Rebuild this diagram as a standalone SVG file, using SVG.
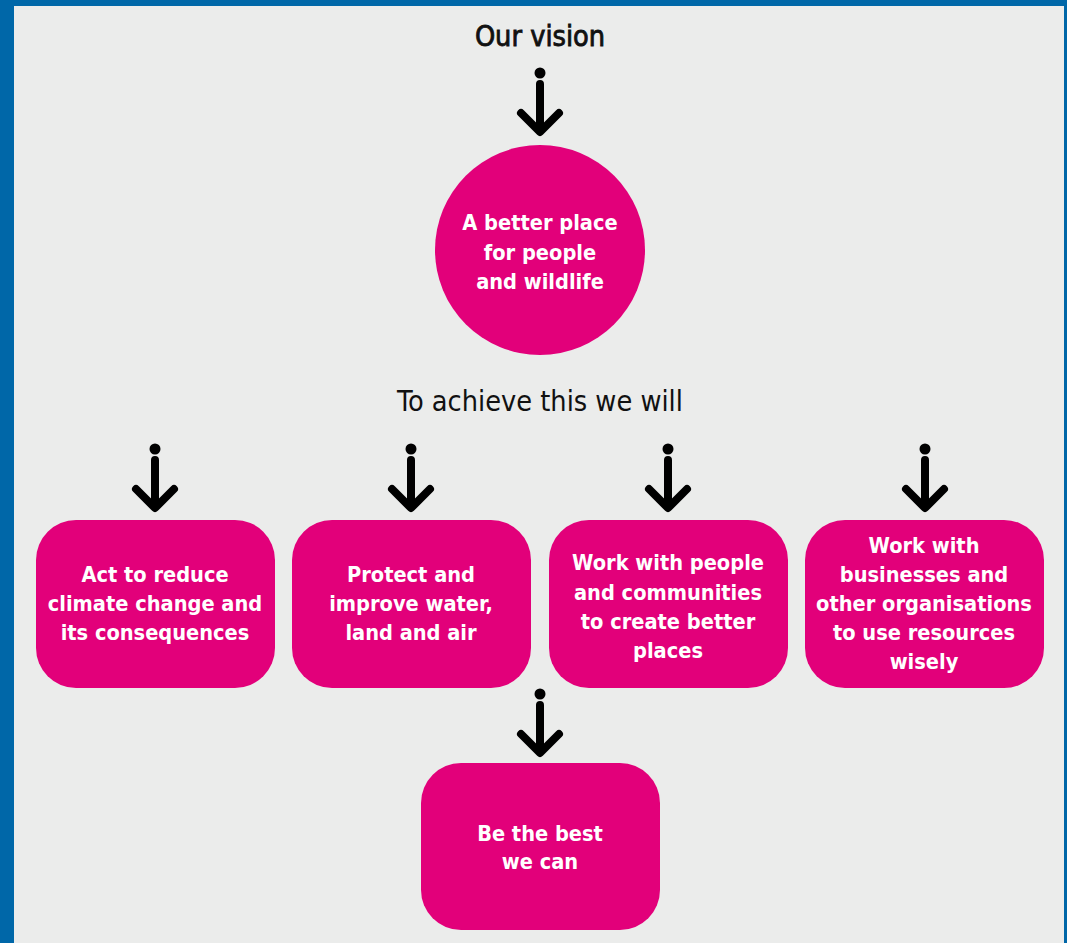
<svg xmlns="http://www.w3.org/2000/svg" width="1067" height="943" viewBox="0 0 1067 943">
<defs>
<style>
.bg{fill:#0067A8}
.panel{fill:#EBECEB}
.node{fill:#E2007A}
.lbl{font-family:"DejaVu Sans","Liberation Sans",sans-serif;font-stretch:condensed;font-weight:bold;font-size:21.6px;fill:#FFFFFF;text-anchor:middle}
.hdr{font-family:"DejaVu Sans","Liberation Sans",sans-serif;font-stretch:condensed;font-size:28.6px;fill:#111111;text-anchor:middle}
.arr{fill:none;stroke:#000;stroke-width:8;stroke-linecap:round;stroke-linejoin:round}
.dot{fill:#000}
</style>
<g id="arrowSym">
<circle class="dot" cx="0" cy="0" r="5.5"/>
<path class="arr" d="M0,11 V58 M-19,40 L0,59 L19,40"/>
</g>
</defs>
<rect class="bg" x="0" y="0" width="1067" height="943"/>
<rect class="panel" x="14" y="6" width="1050" height="937"/>
<text class="hdr" x="540" y="46" stroke="#111111" stroke-width="0.8">Our vision</text>
<text class="hdr" x="540" y="411">To achieve this we will</text>
<g id="connectors">
<use href="#arrowSym" x="540" y="73"/>
<use href="#arrowSym" x="155" y="449"/>
<use href="#arrowSym" x="411" y="449"/>
<use href="#arrowSym" x="668" y="449"/>
<use href="#arrowSym" x="925" y="449"/>
<use href="#arrowSym" x="540" y="694"/>
</g>
<g id="vision">
<circle class="node" cx="540" cy="250" r="105"/>
<text class="lbl" x="540" y="230">A better place</text>
<text class="lbl" x="540" y="260">for people</text>
<text class="lbl" x="540" y="289">and wildlife</text>
</g>
<g id="climate">
<rect class="node" x="36" y="520" width="239" height="168" rx="40"/>
<text class="lbl" x="155" y="582">Act to reduce</text>
<text class="lbl" x="155" y="611">climate change and</text>
<text class="lbl" x="155" y="640">its consequences</text>
</g>
<g id="protect">
<rect class="node" x="292" y="520" width="239" height="168" rx="40"/>
<text class="lbl" x="411" y="582">Protect and</text>
<text class="lbl" x="411" y="611">improve water,</text>
<text class="lbl" x="411" y="640">land and air</text>
</g>
<g id="people">
<rect class="node" x="549" y="520" width="239" height="168" rx="40"/>
<text class="lbl" x="668" y="570">Work with people</text>
<text class="lbl" x="668" y="600">and communities</text>
<text class="lbl" x="668" y="629">to create better</text>
<text class="lbl" x="668" y="658">places</text>
</g>
<g id="business">
<rect class="node" x="805" y="520" width="239" height="168" rx="40"/>
<text class="lbl" x="924" y="553">Work with</text>
<text class="lbl" x="924" y="582">businesses and</text>
<text class="lbl" x="924" y="611">other organisations</text>
<text class="lbl" x="924" y="640">to use resources</text>
<text class="lbl" x="924" y="669">wisely</text>
</g>
<g id="best">
<rect class="node" x="421" y="763" width="239" height="167" rx="40"/>
<text class="lbl" x="540" y="841">Be the best</text>
<text class="lbl" x="540" y="869">we can</text>
</g>
</svg>
